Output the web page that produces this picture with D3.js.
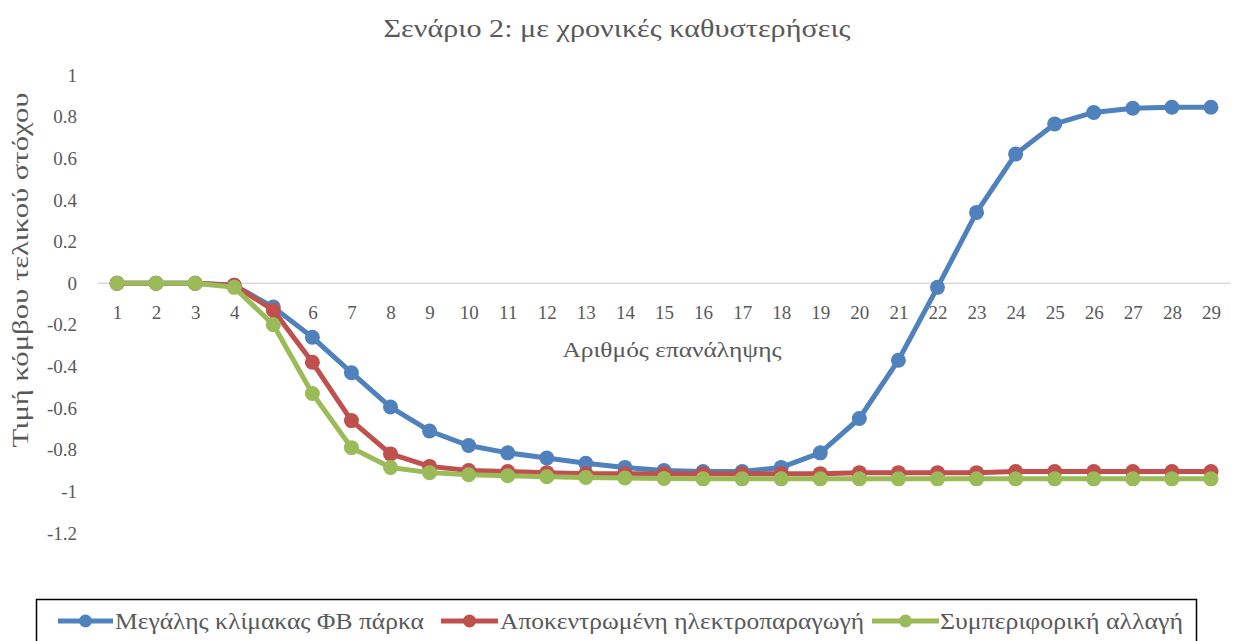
<!DOCTYPE html>
<html>
<head>
<meta charset="utf-8">
<script src="https://cdn.jsdelivr.net/npm/d3@7"></script>
<style>
  body { margin: 0; background: #fff; }
  svg { display: block; }
  text { font-family: "Liberation Serif", "DejaVu Serif", serif; fill: #595959; }
</style>
</head>
<body>
<svg id="chart" width="1236" height="641"></svg>
<script>
// Iterations 1..29
const iterations = d3.range(1, 30).map(String);
const yTicks = [-1.2, -1, -0.8, -0.6, -0.4, -0.2, 0, 0.2, 0.4, 0.6, 0.8, 1];

const largePV = [0, 0, 0, -0.01, -0.115, -0.26, -0.43, -0.595, -0.71, -0.78, -0.815, -0.84, -0.865, -0.885,
  -0.9, -0.905, -0.905, -0.885, -0.815, -0.65, -0.37, -0.02, 0.34, 0.62, 0.765, 0.82, 0.84, 0.845, 0.845];
const distributedGen = [0, 0, 0, -0.01, -0.13, -0.38, -0.66, -0.82, -0.88, -0.9, -0.905, -0.91, -0.915, -0.915,
  -0.915, -0.915, -0.915, -0.915, -0.915, -0.91, -0.91, -0.91, -0.91, -0.905, -0.905, -0.905, -0.905, -0.905, -0.905];
const behaviourChange = [0, 0, 0, -0.02, -0.2, -0.53, -0.79, -0.885, -0.91, -0.92, -0.925, -0.93, -0.933, -0.936,
  -0.938, -0.94, -0.94, -0.94, -0.94, -0.94, -0.94, -0.94, -0.94, -0.94, -0.94, -0.94, -0.94, -0.94, -0.94];

const seriesNames = ["Μεγάλης κλίμακας ΦΒ πάρκα", "Αποκεντρωμένη ηλεκτροπαραγωγή", "Συμπεριφορική αλλαγή"];
const seriesColors = ["#4F81BD", "#C0504D", "#9BBB59"];
const seriesValues = [largePV, distributedGen, behaviourChange];

const serif = '"Liberation Serif", "DejaVu Serif", serif';
const svg = d3.select("#chart");

const x = d3.scalePoint().domain(iterations).range([97.5, 1230.5]).padding(0.5);
const y = d3.scaleLinear().domain([-1.2, 1]).range([533, 75]);

// Title
svg.append("text")
  .attr("x", 617).attr("y", 37)
  .attr("text-anchor", "middle")
  .attr("font-size", 26)
  .attr("textLength", 467).attr("lengthAdjust", "spacingAndGlyphs")
  .text("Σενάριο 2: με χρονικές καθυστερήσεις");

// Y axis (labels only)
const yAxis = d3.axisLeft(y).tickValues(yTicks).tickSize(0).tickPadding(0)
  .tickFormat(d => d === 0 ? "0" : String(+d.toFixed(1)));
const gy = svg.append("g").attr("transform", "translate(77,0)").call(yAxis);
gy.select(".domain").remove();
gy.attr("font-family", null);
gy.selectAll("text")
  .style("font-family", serif)
  .style("font-size", "19px")
  .style("fill", "#595959");

// Y axis title
svg.append("text")
  .attr("transform", "translate(28,270) rotate(-90)")
  .attr("text-anchor", "middle")
  .attr("font-size", 23)
  .attr("textLength", 355).attr("lengthAdjust", "spacingAndGlyphs")
  .text("Τιμή κόμβου τελικού στόχου");

// X axis on the zero line
const xAxis = d3.axisBottom(x).tickSize(0).tickPadding(22);
const gx = svg.append("g").attr("transform", `translate(0,${y(0)})`).call(xAxis);
gx.attr("font-family", null);
gx.select(".domain").attr("stroke", "#d9d9d9").attr("stroke-width", 1.5)
  .attr("d", `M97.5,0H1230.5`);
gx.selectAll("text")
  .style("font-family", serif)
  .style("font-size", "19px")
  .style("fill", "#595959");

// X axis title
svg.append("text")
  .attr("x", 672).attr("y", 357)
  .attr("text-anchor", "middle")
  .attr("font-size", 22)
  .attr("textLength", 219).attr("lengthAdjust", "spacingAndGlyphs")
  .text("Αριθμός επανάληψης");

// Series lines and markers
const line = d3.line().x((d, i) => x(iterations[i])).y(d => y(d));
seriesValues.forEach((vals, s) => {
  const g = svg.append("g");
  g.append("path")
    .datum(vals)
    .attr("d", line)
    .attr("fill", "none")
    .attr("stroke", seriesColors[s])
    .attr("stroke-width", 5)
    .attr("stroke-linejoin", "round");
  g.selectAll("circle")
    .data(vals)
    .join("circle")
    .attr("cx", (d, i) => x(iterations[i]))
    .attr("cy", d => y(d))
    .attr("r", 7.5)
    .attr("fill", seriesColors[s]);
});

// Legend
svg.append("rect")
  .attr("x", 36.5).attr("y", 599.5)
  .attr("width", 1160).attr("height", 60)
  .attr("fill", "none").attr("stroke", "#000").attr("stroke-width", 1.5);

const legendItems = [
  { lx0: 58, lx1: 113, tx: 115, tw: 309 },
  { lx0: 441, lx1: 498, tx: 500, tw: 364 },
  { lx0: 872, lx1: 939, tx: 940, tw: 243 }
];
const legendY = 621;
legendItems.forEach((it, s) => {
  svg.append("line")
    .attr("x1", it.lx0).attr("x2", it.lx1)
    .attr("y1", legendY).attr("y2", legendY)
    .attr("stroke", seriesColors[s]).attr("stroke-width", 5);
  svg.append("circle")
    .attr("cx", (it.lx0 + it.lx1) / 2).attr("cy", legendY)
    .attr("r", 6.5).attr("fill", seriesColors[s]);
  svg.append("text")
    .attr("x", it.tx).attr("y", legendY + 8)
    .attr("font-size", 23)
    .attr("textLength", it.tw).attr("lengthAdjust", "spacingAndGlyphs")
    .text(seriesNames[s]);
});
</script>
</body>
</html>
